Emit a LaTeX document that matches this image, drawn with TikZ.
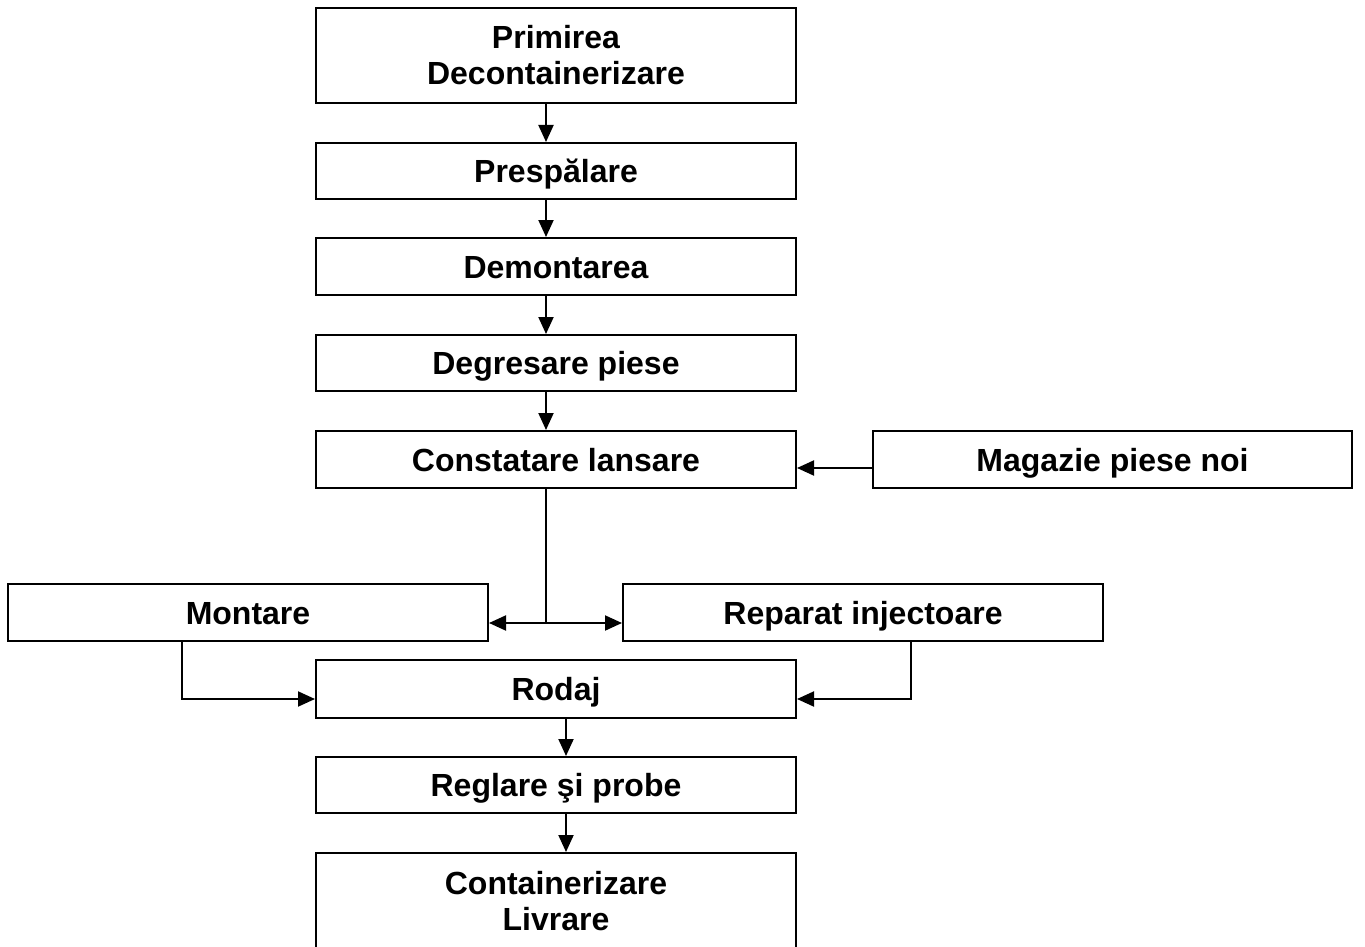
\documentclass[tikz,border=0pt]{standalone}
\usepackage{fontspec}
\setmainfont{Liberation Sans}
\usetikzlibrary{arrows.meta}
\begin{document}
\begin{tikzpicture}[x=1pt,y=-1pt,
  box/.style={draw=black,line width=2pt,minimum width=480pt,minimum height=56pt,inner sep=0pt,
    font=\bfseries\fontsize{32}{36}\selectfont},
  one/.style={text height=23pt,text depth=0pt},
  two/.style={align=center},
  arr/.style={line width=2pt,-{Triangle[length=17pt,width=15pt]}},
  ln/.style={line width=2pt}]
\clip (0,0) rectangle (1365,947);
\fill[white] (0,0) rectangle (1365,947);
\node[box,two,minimum height=95pt] (b1) at (556,55.5) {Primirea\\Decontainerizare};
\node[box,one] (b2) at (556,171) {Prespălare};
\node[box,one,minimum height=57pt] (b3) at (556,266.5) {Demontarea};
\node[box,one] (b4) at (556,363) {Degresare piese};
\node[box,one,minimum height=57pt] (b5) at (556,459.5) {Constatare lansare};
\node[box,one,minimum width=479pt,minimum height=57pt] (mag) at (1112.5,459.5) {Magazie piese noi};
\node[box,one,minimum height=57pt] (mont) at (248,612.5) {Montare};
\node[box,one,minimum height=57pt] (rep) at (863,612.5) {Reparat injectoare};
\node[box,one,minimum height=58pt] (rod) at (556,689) {Rodaj};
\node[box,one] (reg) at (556,785) {Reglare şi probe};
\node[box,two,minimum height=97pt] (cont) at (556,901.5) {Containerizare\\Livrare};
\coordinate (xa) at (546,0);
\coordinate (xb) at (566,0);
\coordinate (xm) at (181.5,0);
\coordinate (xr) at (911,0);
\coordinate (ym) at (0,468);
\coordinate (yj) at (0,623);
\coordinate (yr) at (0,699);
\draw[arr] (b1.south -| xa) -- (b2.north -| xa);
\draw[arr] (b2.south -| xa) -- (b3.north -| xa);
\draw[arr] (b3.south -| xa) -- (b4.north -| xa);
\draw[arr] (b4.south -| xa) -- (b5.north -| xa);
\draw[arr] (mag.west |- ym) -- (b5.east |- ym);
\coordinate (j) at (xa |- yj);
\draw[ln] (b5.south -| xa) -- (j);
\draw[arr] (j) -- (mont.east |- yj);
\draw[arr] (j) -- (rep.west |- yj);
\draw[arr] (mont.south -| xm) |- (rod.west |- yr);
\draw[arr] (rep.south -| xr) |- (rod.east |- yr);
\draw[arr] (rod.south -| xb) -- (reg.north -| xb);
\draw[arr] (reg.south -| xb) -- (cont.north -| xb);
\end{tikzpicture}
\end{document}
